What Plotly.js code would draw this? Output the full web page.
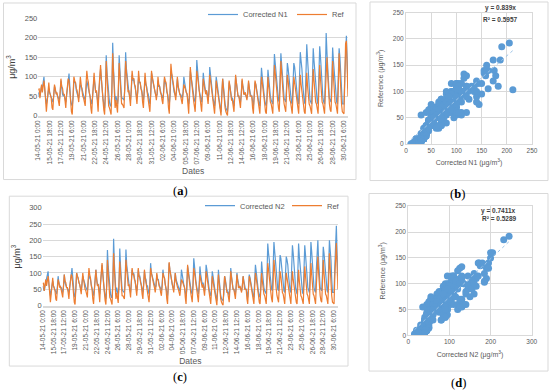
<!DOCTYPE html>
<html><head><meta charset="utf-8">
<script src="https://cdn.plot.ly/plotly-3.0.1.min.js"></script>
<style>html,body{margin:0;padding:0;background:#fff}#chart{width:550px;height:390px}</style>
</head><body><div id="chart"></div>
<script>
// ---- data: 3-hourly readings (0,3,6,9,12,15,18,21 h) from 14-05-21 to 30-06-21 ----
const startTime = '2021-05-14 00:00';
const endTime = '2021-06-30 21:00';
const stepHours = 3;
const tickStepHours = 42;

const ref = [
  65,70,45,60,80,60,75,90,     70,40,10,35,65,85,60,50,     45,20,15,50,80,70,55,60,
  50,35,25,60,95,75,70,55,     55,40,20,55,85,95,90,60,     25,10,3,45,100,90,85,70,
  65,50,35,70,100,80,55,50,    45,30,25,80,115,95,85,60,    50,20,5,45,85,110,80,60,
  65,30,10,70,115,130,95,55,   40,15,3,60,140,100,55,25,    20,5,3,70,160,110,45,20,
  40,15,8,75,135,100,55,30,    30,25,20,80,140,110,75,60,   65,40,25,70,115,95,95,80,
  75,50,30,65,115,90,85,70,    60,35,20,65,110,85,70,55,    50,25,10,55,115,100,85,70,
  65,55,40,60,100,80,75,60,    55,40,30,60,100,90,85,65,    50,20,5,70,133,110,95,75,
  65,55,40,70,100,75,60,55,    50,40,30,55,80,75,65,60,     55,25,5,65,125,100,85,60,
  40,20,10,60,115,100,80,60,   55,30,10,55,95,80,60,55,     65,45,30,65,105,90,75,60,
  40,20,5,45,90,75,60,45,      30,10,0,60,95,70,40,20,      10,3,0,55,90,75,50,40,
  40,20,10,55,105,85,65,50,    50,35,20,55,95,75,55,55,     60,50,40,60,90,70,50,50,
  50,20,5,50,90,80,65,45,      30,10,5,55,100,85,60,40,     30,10,5,50,100,75,50,35,
  30,10,5,70,130,110,80,50,    40,20,10,75,140,110,70,50,   30,15,10,60,105,90,60,40,
  35,15,5,55,100,85,70,45,     40,15,5,60,105,80,60,40,     30,10,5,60,110,75,50,30,
  25,10,5,65,120,90,60,35,     30,10,5,70,130,95,55,35,     30,10,5,60,103,150,100,55,
  30,15,10,70,140,100,55,35,   30,10,5,75,160,115,60,30,    10,5,5,90,185,192,120,50
];
const n1 = [
  60,50,50,60,75,70,85,100,    65,45,30,40,55,70,60,55,     50,40,35,50,75,65,60,55,
  55,45,40,55,90,70,55,50,     55,45,35,50,80,90,108,70,    40,30,25,45,90,85,85,65,
  55,50,45,60,80,75,70,60,     50,45,40,65,90,80,70,60,     55,40,30,45,70,100,80,60,
  60,40,30,60,100,120,95,60,   45,30,20,55,155,110,80,45,   35,25,25,60,187,120,70,40,
  50,35,30,50,155,115,75,45,   45,40,40,70,163,120,95,70,   60,50,40,65,105,90,95,80,
  65,55,45,60,100,85,85,70,    65,50,40,60,100,80,75,60,    55,40,30,55,110,95,85,70,
  60,55,50,55,90,75,75,60,     55,50,45,60,95,85,80,60,     55,40,30,50,115,105,85,70,
  60,55,50,65,95,75,65,55,     55,50,45,60,100,85,70,60,    55,40,30,45,115,100,85,60,
  45,40,35,60,143,110,85,65,   55,45,35,55,110,90,70,60,    65,55,45,55,125,105,80,65,
  45,35,25,45,100,85,65,50,    35,20,10,40,95,75,45,30,     20,15,10,30,85,75,55,45,
  45,35,25,55,100,85,60,50,    50,40,35,55,90,75,60,55,     55,50,45,55,85,70,55,50,
  50,35,25,50,85,80,65,50,     40,30,25,60,123,100,75,55,   40,30,25,55,118,95,65,50,
  40,35,30,80,158,135,110,70,  50,40,35,85,160,130,100,75,  45,40,35,75,135,120,95,70,
  45,35,30,75,135,125,100,70,  50,35,30,85,163,140,120,80,  45,35,30,90,183,145,95,65,
  40,35,30,90,173,140,110,70,  45,35,30,95,178,150,100,65,  45,35,30,100,212,160,110,70,
  45,40,35,90,175,140,110,70,  45,35,30,100,173,150,105,60, 30,30,30,100,190,205,140,70
];
const n2 = [
  60,55,45,60,70,75,90,105,    65,45,30,45,60,75,60,55,     50,40,35,55,90,70,60,55,
  55,45,40,60,95,70,60,55,     55,45,40,55,85,95,115,75,    40,30,25,50,100,90,90,70,
  60,50,45,65,90,80,75,65,     55,50,45,70,95,85,80,65,     55,40,30,50,80,110,85,65,
  65,40,35,65,105,125,100,65,  45,30,20,60,170,120,85,45,   35,25,25,65,205,130,75,40,
  55,35,30,55,175,120,80,50,   45,40,40,75,172,125,100,70,  65,50,40,70,110,95,100,85,
  75,60,45,65,110,90,90,75,    65,50,40,65,105,85,80,60,    60,45,35,60,130,100,90,75,
  65,60,55,60,95,80,80,65,     55,50,45,65,110,90,85,65,    55,40,30,55,130,110,90,75,
  65,55,50,70,100,80,70,60,    55,50,45,65,110,90,75,65,    55,40,30,50,120,105,90,65,
  50,40,35,65,145,115,90,70,   55,45,35,60,120,95,75,65,    70,55,45,60,125,110,85,70,
  50,35,30,50,105,90,65,55,    40,25,15,45,110,80,45,30,    20,15,15,35,90,80,55,45,
  45,35,30,60,115,90,60,50,    50,40,35,60,100,80,60,55,    55,50,45,60,90,75,55,50,
  50,35,25,55,95,85,70,55,     40,30,25,65,125,105,80,55,   40,30,25,60,135,105,70,55,
  45,40,35,95,190,160,140,95,  60,50,45,100,195,165,130,95, 55,50,45,85,155,145,120,85,
  55,45,40,90,150,140,125,90,  60,45,40,100,185,160,135,95, 55,45,35,100,190,150,120,80,
  50,40,35,100,185,155,130,90, 55,45,40,105,195,165,125,85, 55,45,40,110,185,200,135,90,
  55,50,45,100,180,160,130,90, 60,45,40,115,200,170,140,80, 40,40,40,120,232,245,160,90
];
const slopeN1 = 0.839, r2N1 = 0.5957;
const slopeN2 = 0.7411, r2N2 = 0.5289;

// ---- styling ----
const W = 550, H = 390;
const px = x => x / W, py = y => 1 - y / H;
const FONT = '"Liberation Sans", Arial, sans-serif';
const SERIF = '"Liberation Serif", "Times New Roman", serif';
const BLUE = '#5B9BD5', ORANGE = '#ED7D31', GRID = '#D9D9D9', TXT = '#595959';
const HOUR = 3600 * 1000;

function lineTrace(y, name, color, xa, ya, legend) {
  return {type: 'scatter', mode: 'lines', x0: startTime, dx: stepHours * HOUR, y: y, name: name,
    line: {color: color, width: 1.2}, xaxis: xa, yaxis: ya, legend: legend, hoverinfo: 'skip'};
}
function scatterTrace(x, y, xa, ya) {
  return {type: 'scatter', mode: 'markers', x: x, y: y, xaxis: xa, yaxis: ya, showlegend: false,
    marker: {color: BLUE, size: 7, line: {width: 0}}, hoverinfo: 'skip'};
}
function trendTrace(x, slope, xa, ya) {
  const lo = Math.min.apply(null, x), hi = Math.max.apply(null, x);
  return {type: 'scatter', mode: 'lines', x: [lo, hi], y: [slope * lo, slope * hi], xaxis: xa, yaxis: ya,
    showlegend: false, line: {color: '#9DC3E6', width: 1, dash: 'dot'}, hoverinfo: 'skip'};
}

const data = [
  lineTrace(n1, 'Corrected N1', BLUE, 'x', 'y', 'legend'),
  lineTrace(ref, 'Ref', ORANGE, 'x', 'y', 'legend'),
  scatterTrace(n1, ref, 'x2', 'y2'),
  trendTrace(n1, slopeN1, 'x2', 'y2'),
  lineTrace(n2, 'Corrected N2', BLUE, 'x3', 'y3', 'legend2'),
  lineTrace(ref, 'Ref', ORANGE, 'x3', 'y3', 'legend2'),
  scatterTrace(n2, ref, 'x4', 'y4'),
  trendTrace(n2, slopeN2, 'x4', 'y4')
];

function timeX(domain, anchor) {
  return {domain: domain, anchor: anchor, type: 'date', range: [startTime, endTime], tickmode: 'linear', tick0: startTime,
    dtick: tickStepHours * HOUR, tickformat: '%d-%m-%y %-H:%M', tickangle: -90, tickfont: {size: 6.5, color: TXT},
    showgrid: false, zeroline: false, showline: true, linecolor: GRID, linewidth: 2, ticks: '',
    title: {text: 'Dates', font: {size: 8.5, color: TXT}, standoff: 5}, fixedrange: true};
}
function timeY(domain, top, anchor) {
  return {domain: domain, anchor: anchor, range: [0, top], dtick: 50, showgrid: true, gridcolor: GRID, gridwidth: 1,
    zeroline: false, showline: false, ticks: '', tickfont: {size: 7.5, color: TXT},
    title: {text: 'μg/m<sup>3</sup>', font: {size: 9, color: '#404040'}, standoff: 7}, fixedrange: true};
}
function scX(domain, top, dt, title, anchor) {
  return {domain: domain, anchor: anchor, range: [0, top], dtick: dt, showgrid: true, gridcolor: GRID,
    zeroline: false, showline: true, mirror: true, linecolor: GRID, linewidth: 1, ticks: '',
    tickfont: {size: 6.5, color: TXT}, title: {text: title, font: {size: 7, color: TXT}, standoff: 7}, fixedrange: true};
}
function scY(domain, anchor, title) {
  return {domain: domain, anchor: anchor, range: [0, 250], dtick: 50, showgrid: true, gridcolor: GRID,
    zeroline: false, showline: true, mirror: true, linecolor: GRID, linewidth: 1, ticks: '',
    tickfont: {size: 6.5, color: TXT}, title: {text: title, font: {size: 7, color: TXT}, standoff: 8}, fixedrange: true};
}

const box = (x0, y0, x1, y1) => ({type: 'rect', xref: 'paper', yref: 'paper', x0: px(x0), x1: px(x1),
  y0: py(y1), y1: py(y0), line: {color: GRID, width: 1}, fillcolor: 'rgba(0,0,0,0)', layer: 'below'});
const note = (text, x, y, size, family, color) => ({xref: 'paper', yref: 'paper', x: px(x), y: py(y),
  xanchor: 'center', yanchor: 'middle', showarrow: false, text: text, font: {size: size, family: family, color: color}});

const layout = {
  width: W, height: H, margin: {l: 0, r: 0, t: 0, b: 0}, paper_bgcolor: '#fff', plot_bgcolor: 'rgba(0,0,0,0)',
  font: {family: FONT, color: TXT, size: 8},
  xaxis: timeX([px(38.3), px(348.0)], 'y'),
  yaxis: timeY([py(115), py(17.3)], 250, 'x'),
  xaxis2: scX([px(406), px(532)], 250, 50, 'Corrected N1 (μg/m<sup>3</sup>)', 'y2'),
  yaxis2: scY([py(143.3), py(11.7)], 'x2', 'Reference (μg/m<sup>3</sup>)'),
  xaxis3: timeX([px(42.7), px(337.9)], 'y3'),
  yaxis3: timeY([py(305.3), py(207.3)], 300, 'x3'),
  xaxis4: scX([px(408.3), px(531.7)], 300, 100, 'Corrected N2 (μg/m<sup>3</sup>)', 'y4'),
  yaxis4: scY([py(335.3), py(205.7)], 'x4', 'Reference (μg/m<sup>3</sup>)'),
  legend: {orientation: 'h', x: px(203), y: py(14), xanchor: 'left', yanchor: 'middle', bgcolor: 'rgba(0,0,0,0)',
    font: {size: 7.5, color: TXT}, entrywidth: 44, entrywidthmode: 'pixels', itemwidth: 30},
  legend2: {orientation: 'h', x: px(200), y: py(205.7), xanchor: 'left', yanchor: 'middle', bgcolor: 'rgba(0,0,0,0)',
    font: {size: 7.5, color: TXT}, entrywidth: 42, entrywidthmode: 'pixels', itemwidth: 30},
  shapes: [box(3.5, 2, 356, 179), box(370, 1, 548, 180), box(9.3, 195.7, 348, 366), box(369, 193, 548, 371)],
  annotations: [
    note('<b>y = ' + slopeN1 + 'x</b>', 500, 7.5, 6.5, FONT, '#404040'),
    note('<b>R² = ' + r2N1 + '</b>', 500.7, 18.3, 6.5, FONT, '#404040'),
    note('<b>y = ' + slopeN2 + 'x</b>', 498.3, 210.7, 6.5, FONT, '#404040'),
    note('<b>R² = ' + r2N2 + '</b>', 499.3, 218.3, 6.5, FONT, '#404040'),
    note('(<b>a</b>)', 180, 190, 12.5, SERIF, '#000'),
    note('(<b>b</b>)', 457, 193, 12.5, SERIF, '#000'),
    note('(<b>c</b>)', 180, 377, 12.5, SERIF, '#000'),
    note('(<b>d</b>)', 458, 383, 12.5, SERIF, '#000')
  ]
};

Plotly.newPlot('chart', data, layout, {displayModeBar: false, staticPlot: true});
</script></body></html>
